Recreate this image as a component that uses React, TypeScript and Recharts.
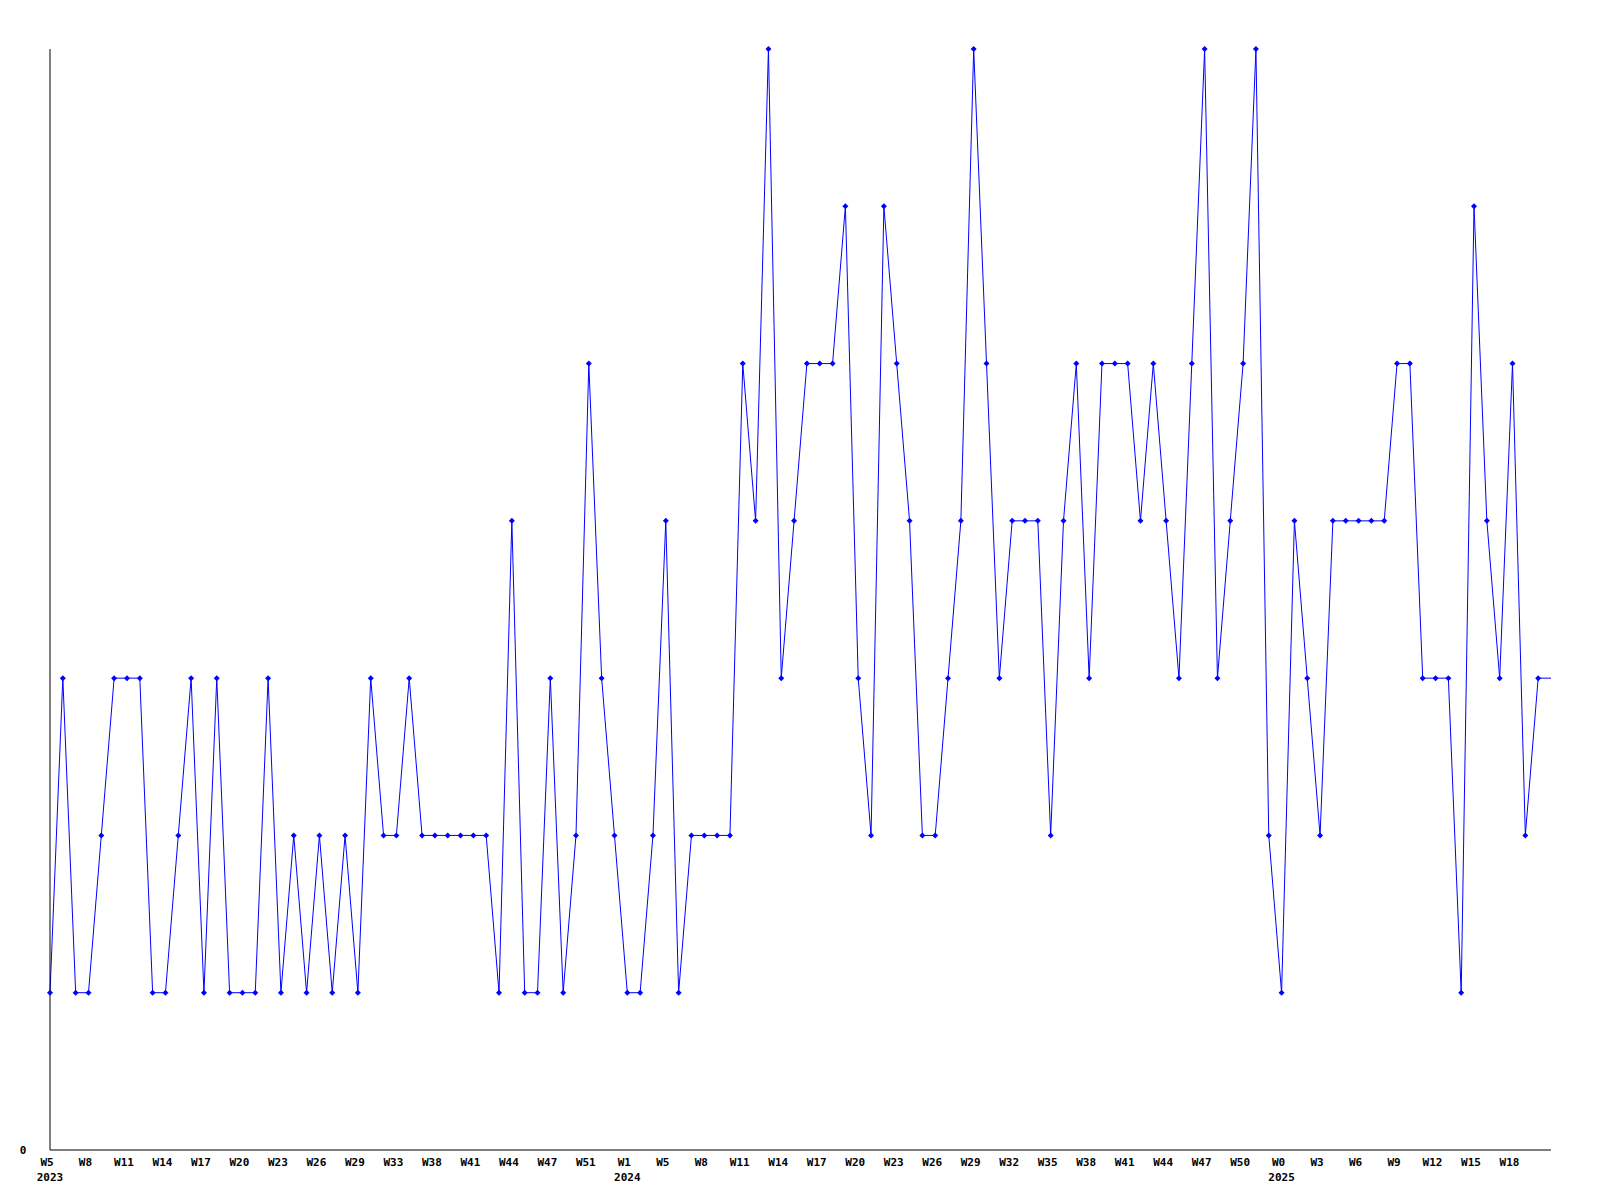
import React from 'react';
import { LineChart, Line, XAxis, YAxis } from 'recharts';

// week labels per point (only every 3rd one is drawn on the axis)
const weeks = [
  'W5', 'W6', 'W7', 'W8', 'W9', 'W10', 'W11', 'W12', 'W13', 'W14', 'W15', 'W16', 'W17', 'W18', 'W19',
  'W20', 'W21', 'W22', 'W23', 'W24', 'W25', 'W26', 'W27', 'W28', 'W29', 'W30', 'W31', 'W33', 'W34', 'W36',
  'W38', 'W39', 'W40', 'W41', 'W42', 'W43', 'W44', 'W45', 'W46', 'W47', 'W48', 'W49', 'W51', 'W52', 'W0',
  'W1', 'W2', 'W4', 'W5', 'W6', 'W7', 'W8', 'W9', 'W10', 'W11', 'W12', 'W13', 'W14', 'W15', 'W16',
  'W17', 'W18', 'W19', 'W20', 'W21', 'W22', 'W23', 'W24', 'W25', 'W26', 'W27', 'W28', 'W29', 'W30', 'W31',
  'W32', 'W33', 'W34', 'W35', 'W36', 'W37', 'W38', 'W39', 'W40', 'W41', 'W42', 'W43', 'W44', 'W45', 'W46',
  'W47', 'W48', 'W49', 'W50', 'W51', 'W52', 'W0', 'W1', 'W2', 'W3', 'W4', 'W5', 'W6', 'W7', 'W8',
  'W9', 'W10', 'W11', 'W12', 'W13', 'W14', 'W15', 'W16', 'W17', 'W18', 'W19', 'W20', 'W21',
];

const years = [
  ...Array(44).fill(2023),
  ...Array(52).fill(2024),
  ...Array(22).fill(2025),
];

const counts = [
  1, 3, 1, 1, 2, 3, 3, 3, 1, 1, 2, 3, 1, 3, 1, 1, 1, 3, 1, 2,
  1, 2, 1, 2, 1, 3, 2, 2, 3, 2, 2, 2, 2, 2, 2, 1, 4, 1, 1, 3,
  1, 2, 5, 3, 2, 1, 1, 2, 4, 1, 2, 2, 2, 2, 5, 4, 7, 3, 4, 5,
  5, 5, 6, 3, 2, 6, 5, 4, 2, 2, 3, 4, 7, 5, 3, 4, 4, 4, 2, 4,
  5, 3, 5, 5, 5, 4, 5, 4, 3, 5, 7, 3, 4, 5, 7, 2, 1, 4, 3, 2,
  4, 4, 4, 4, 4, 5, 5, 3, 3, 3, 1, 6, 4, 3, 5, 2, 3, 3,
];

const data = counts.map((v, i) => ({ key: `${years[i]}-${weeks[i]}-${i}`, value: v }));

const FONT = '"DejaVu Sans Mono", monospace';
const last = counts.length - 1;

const WeekTick = (props: any) => {
  const { x, y, payload } = props;
  const i = payload.index;
  if (i === last) return <g />;
  const showYear = i === 0 || years[i] !== years[i - 3];
  return (
    <g>
      <text x={x - 3} y={y + 16} textAnchor="middle" fontFamily={FONT} fontWeight="bold" fontSize={11} fill="#000">
        {weeks[i]}
      </text>
      {showYear && (
        <text x={x} y={y + 31} textAnchor="middle" fontFamily={FONT} fontWeight="bold" fontSize={11} fill="#000">
          {years[i]}
        </text>
      )}
    </g>
  );
};

const ZeroTick = (props: any) => {
  const { y, payload } = props;
  return (
    <text x={23} y={y + 4} textAnchor="middle" fontFamily={FONT} fontWeight="bold" fontSize={11} fill="#000">
      {payload.value}
    </text>
  );
};

const Marker = (props: any) => {
  const { cx, cy, index } = props;
  if (index === last || cx == null) return <g key={index} />;
  return (
    <path
      key={index}
      d={`M${cx - 3},${cy} L${cx},${cy - 3} L${cx + 3},${cy} L${cx},${cy + 3} Z`}
      fill="#0000ff"
      stroke="none"
    />
  );
};

export default function App() {
  return (
    <div style={{ position: 'absolute', left: 0, top: 0, background: '#fff' }}>
      <LineChart width={1600} height={1200} data={data} margin={{ top: 49, right: 49, bottom: 10, left: 10 }}>
        <XAxis
          dataKey="key"
          interval={2}
          height={40}
          tickSize={0}
          tickMargin={0}
          tickLine={false}
          axisLine={{ stroke: '#000', strokeWidth: 1 }}
          tick={<WeekTick />}
        />
        <YAxis
          width={40}
          domain={[0, 7]}
          ticks={[0]}
          tickLine={false}
          tickSize={0}
          axisLine={{ stroke: '#000', strokeWidth: 1 }}
          tick={<ZeroTick />}
        />
        <Line
          type="linear"
          dataKey="value"
          stroke="#0000ff"
          strokeWidth={1}
          dot={<Marker />}
          activeDot={false}
          isAnimationActive={false}
        />
      </LineChart>
    </div>
  );
}
